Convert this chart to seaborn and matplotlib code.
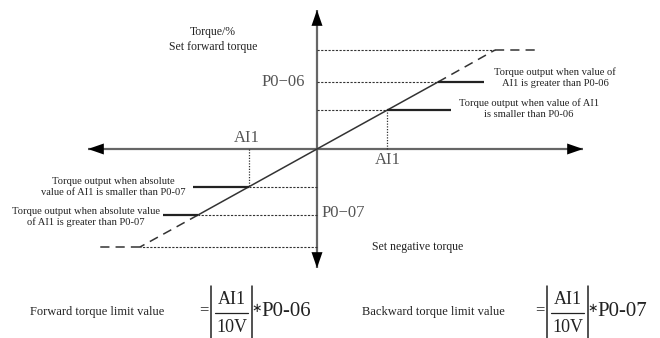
import numpy as np
import pandas as pd
import matplotlib
matplotlib.use("Agg")
import matplotlib.pyplot as plt
import seaborn as sns

# ── Data (diagram units: 1 unit ~ 1 px, origin where the axes cross) ─────────
AI1_POS = [70, 121, 178]        # AI1 input at the three forward set points
TQ_POS = [39, 67, 99]           # torque at those points
AI1_NEG = [-68, -119, -177]     # AI1 input at the three backward set points
TQ_NEG = [-38, -66, -98]
OUT_END_POS = [134, 167]        # end of the solid "torque output" marks
OUT_END_NEG = [-124, -154]
EXT_END = [221, -218]           # end of the dashed limit extensions

AXIS_X = [-229, 266]
AXIS_Y = [-119, 139]

INK, GREY = "#222222", "#555555"
SERIF = "Liberation Serif"

sns.set_theme(style="white")
plt.rcParams["font.family"] = [SERIF, "DejaVu Serif"]

fig = plt.figure(figsize=(6.6, 3.38), dpi=100, facecolor="white")
ax = fig.add_axes([0, 0, 1, 1])
ax.set_xlim(-317, 343)
ax.set_ylim(-189, 149)
ax.set_axis_off()

# ── Axes with arrow heads ────────────────────────────────────────────────────
ax.plot(AXIS_X, [0, 0], color="#666666", lw=1.6, solid_capstyle="butt")
ax.plot([0, 0], AXIS_Y, color="#666666", lw=1.6, solid_capstyle="butt")
head = dict(arrowstyle="-|>,head_length=0.95,head_width=0.33", color="black",
            lw=0, shrinkA=0, shrinkB=0)
for tip, base in [((AXIS_X[0], 0), (AXIS_X[0] + 14, 0)),
                  ((AXIS_X[1], 0), (AXIS_X[1] - 14, 0)),
                  ((0, AXIS_Y[1]), (0, AXIS_Y[1] - 14)),
                  ((0, AXIS_Y[0]), (0, AXIS_Y[0] + 14))]:
    ax.annotate("", xy=tip, xytext=base, arrowprops=head)

# ── Characteristic line ──────────────────────────────────────────────────────
line_df = pd.DataFrame({"ai1": [AI1_NEG[1], 0, AI1_POS[1]],
                        "torque": [TQ_NEG[1], 0, TQ_POS[1]]})
sns.lineplot(data=line_df, x="ai1", y="torque", ax=ax, color="#333333",
             lw=1.1, sort=True)
long_dash = (0, (6, 4))
ax.plot([AI1_POS[1], AI1_POS[2]], [TQ_POS[1], TQ_POS[2]],
        color="#333333", lw=1.1, ls=long_dash)
ax.plot([AI1_NEG[1], AI1_NEG[2]], [TQ_NEG[1], TQ_NEG[2]],
        color="#333333", lw=1.1, ls=long_dash)
ax.plot([AI1_POS[2], EXT_END[0]], [TQ_POS[2]] * 2, color="#333333",
        lw=1.1, ls=long_dash)
ax.plot([AI1_NEG[2], EXT_END[1]], [TQ_NEG[2]] * 2, color="#333333",
        lw=1.1, ls=long_dash)

# ── Guide lines ──────────────────────────────────────────────────────────────
fine = (0, (2.0, 1.3))
for x, y in zip(AI1_POS + AI1_NEG, TQ_POS + TQ_NEG):
    ax.plot([0, x], [y, y], color="#333333", lw=0.8, ls=fine)
ax.plot([AI1_POS[0]] * 2, [0, TQ_POS[0]], color="#333333", lw=0.9,
        ls=(0, (1, 1.2)))
ax.plot([AI1_NEG[0]] * 2, [0, TQ_NEG[0]], color="#333333", lw=0.9,
        ls=(0, (1, 1.2)))

# solid torque-output marks
for x0, x1, y in zip(AI1_POS[:2], OUT_END_POS, TQ_POS[:2]):
    ax.plot([x0, x1], [y, y], color=INK, lw=1.6, solid_capstyle="butt")
for x0, x1, y in zip(AI1_NEG[:2], OUT_END_NEG, TQ_NEG[:2]):
    ax.plot([x0, x1], [y, y], color=INK, lw=1.6, solid_capstyle="butt")

# ── Labels ───────────────────────────────────────────────────────────────────
ax.text(-104, 117, "Torque/%", ha="center", va="center", fontsize=8.5, color=INK)
ax.text(-104, 102, "Set forward torque", ha="center", va="center",
        fontsize=8.5, color=INK)
ax.text(-12, TQ_POS[1], "P0\u221206", ha="right", va="center", fontsize=12,
        color=GREY)
ax.text(5, -64, "P0\u221207", ha="left", va="center", fontsize=12, color=GREY)
ax.text(AI1_NEG[0] - 2, 11, "AI1", ha="center", va="center", fontsize=12,
        color=GREY)
ax.text(AI1_POS[0] + 1, -11, "AI1", ha="center", va="center", fontsize=12,
        color=GREY)
ax.text(55, -98, "Set negative torque", ha="left", va="center", fontsize=8.5,
        color=INK)

notes = [
    (238, 71, "Torque output when value of\nAI1 is greater than P0-06"),
    (212, 40, "Torque output when value of AI1\nis smaller than P0-06"),
    (-204, -38, "Torque output when absolute\nvalue of AI1 is smaller than P0-07"),
    (-231, -68, "Torque output when absolute value\nof AI1 is greater than P0-07"),
]
for x, y, s in notes:
    ax.text(x, y, s, ha="center", va="center", fontsize=7.6, color=INK,
            linespacing=1.25)


# ── Formulas ─────────────────────────────────────────────────────────────────
def formula(x0, param):
    # x0 = left bar of the absolute value
    ax.text(x0 - 7, -161, "=", ha="center", va="center", fontsize=12, color=INK)
    ax.plot([x0, x0], [-137, -189], color=INK, lw=1.1)
    ax.plot([x0 + 41, x0 + 41], [-137, -189], color=INK, lw=1.1)
    ax.plot([x0 + 4, x0 + 37], [-164, -164], color=INK, lw=0.9)
    ax.text(x0 + 20.5, -151, "AI1", ha="center", va="center", fontsize=13,
            color=INK)
    ax.text(x0 + 20.5, -178, "10V", ha="center", va="center", fontsize=13,
            color=INK)
    ax.text(x0 + 46, -160, "\u2217", ha="center", va="center", fontsize=9,
            color=INK, family=["DejaVu Sans"])
    ax.text(x0 + 50, -162, param, ha="left", va="center", fontsize=15,
            color=INK)


ax.text(-287, -163, "Forward torque limit value", ha="left", va="center",
        fontsize=9, color=INK)
ax.text(45, -163, "Backward torque limit value", ha="left", va="center",
        fontsize=9, color=INK)
formula(211 - 317, "P0-06")
formula(547 - 317, "P0-07")

fig.savefig("out.png", dpi=100, facecolor="white")
plt.close(fig)
